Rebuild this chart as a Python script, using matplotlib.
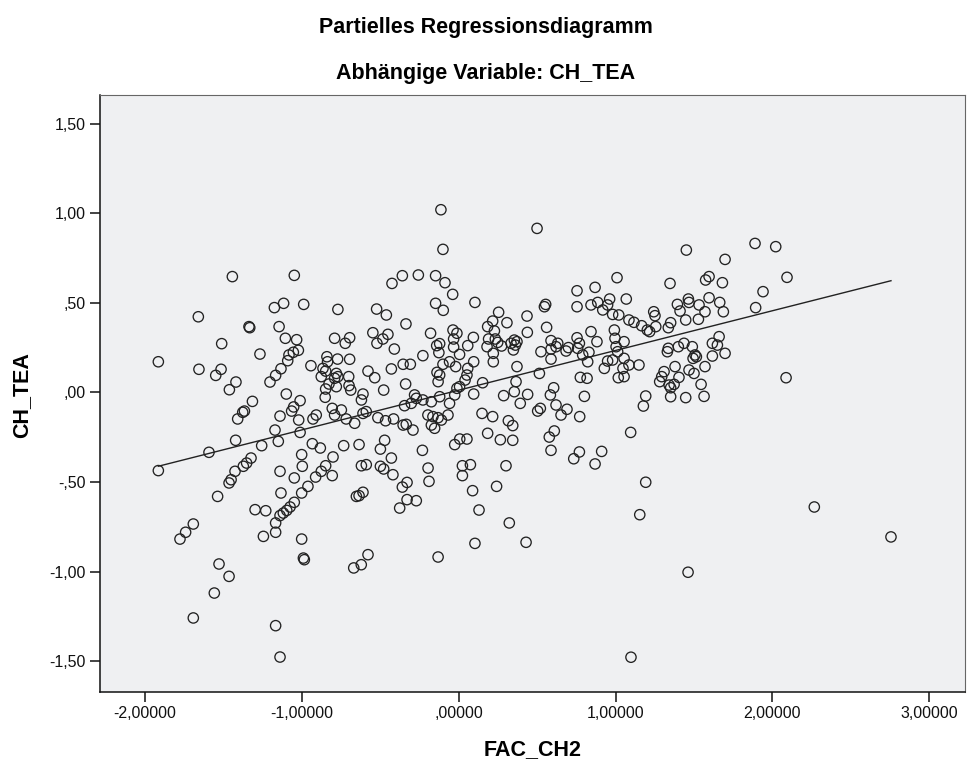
import numpy as np
import matplotlib
matplotlib.use('Agg')
import matplotlib.pyplot as plt
from matplotlib.ticker import FuncFormatter

plt.rcParams['font.family'] = ['Liberation Sans', 'DejaVu Sans']

# residuals
fac_ch2 = [
    # upper left
    -1.444, -1.049, -1.661, -1.176, -1.117, -0.989, -1.338, -1.333, -1.146, -1.512,
    -1.106, -1.034, -1.268, -1.916, -1.657, -1.516, -1.550, -1.083, -1.055, -1.023,
    -1.091, -1.134, -1.168, -1.204, -1.421, -1.463, -1.100, -1.316, -1.367, -1.378,
    -1.410, -1.012, -1.053, -1.066, -1.140, -1.021, -1.172, -1.012,
    # lower left
    -1.916, -1.593, -1.423, -1.257, -1.151, -1.325, -1.353, -1.374, -1.427, -1.452,
    -1.465, -1.538, -1.140, -1.049, -1.002, -0.998, -1.134, -1.002, -1.299, -1.231,
    -1.168, -1.168, -1.246, -1.140, -1.119, -1.097, -1.076, -1.049, -1.693, -1.742,
    -1.778, -1.529, -1.465, -1.559, -1.693, -1.168, -1.140, -1.002, -0.991, -0.985,
    # upper centre left
    -0.114, -0.101, -0.426, -0.360, -0.258, -0.148, -0.088, -0.039, -0.771, -0.524,
    -0.462, -0.148, -0.099, -0.337, -0.180, -0.548, -0.452, -0.484, -0.522, -0.792,
    -0.696, -0.724, -0.411, -0.037, -0.012, -0.033, -0.141, -0.122, -0.127, -0.033,
    0.005, -0.943, -0.841, -0.837, -0.773, -0.696, -0.866, -0.849, -0.877, -0.781,
    -0.771, -0.792, -0.702, -0.828, -0.781, -0.849, -0.852, -0.700, -0.689, -0.579,
    -0.536, -0.430, -0.355, -0.309, -0.229, -0.339, -0.479, -0.611, -0.621, -0.139,
    -0.122, -0.132, -0.101, -0.059, -0.020, -0.909, -0.930, -0.807, -0.749, -0.792,
    -0.718, -0.664, -0.611, -0.590, -0.516, -0.467, -0.416, -0.355, -0.335, -0.282,
    -0.271, -0.346, -0.303, -0.229, -0.175, -0.197, -0.165, -0.132, -0.111, -0.069,
    -0.122, -0.059, -0.026, -0.012, 0.005, -0.175, -0.154, -0.292,
    # upper centre right
    0.499, 1.009, 0.754, 0.869, 0.103, 0.554, 0.546, 0.754, 0.843, 0.886,
    0.918, 0.962, 0.949, 0.981, 1.020, 0.254, 0.216, 0.184, 0.307, 0.435,
    0.560, 0.437, 0.227, 0.190, 0.233, 0.248, 0.273, 0.180, 0.093, 0.057,
    0.333, 0.354, 0.361, 0.348, 0.371, 0.588, 0.631, 0.620, 0.588, 0.524,
    0.588, 0.699, 0.684, 0.754, 0.769, 0.758, 0.790, 0.830, 0.822, 0.843,
    0.881, 0.992, 0.996, 1.003, 1.013, 0.981, 0.949, 0.928, 0.220, 0.220,
    0.095, 0.371, 0.514, 0.057, 0.052, 0.040, 0.152, 0.095, 0.365, 0.354,
    0.286, 0.439, 0.392, 0.605, 0.584, 0.620, 0.652, 0.690, 0.775, 0.818,
    0.801, 0.771, 0.148, 0.216, 0.316, 0.344, 0.184, 0.503, 0.520, 0.609,
    1.017,
    # upper right
    1.451, 1.889, 2.021, 1.698, 1.347, 1.574, 1.596, 1.681, 1.940, 1.893,
    1.068, 1.394, 1.464, 1.468, 1.532, 1.596, 1.664, 1.411, 1.570, 1.687,
    1.447, 1.528, 1.243, 1.251, 1.085, 1.117, 1.166, 1.202, 1.217, 1.256,
    1.336, 1.351, 1.054, 1.054, 1.085, 1.047, 1.054, 1.149, 1.336, 1.330,
    1.400, 1.436, 1.489, 1.506, 1.494, 1.515, 1.617, 1.660, 1.649, 1.698,
    1.617, 1.570, 1.379, 1.468, 1.500, 1.404, 1.309, 1.294, 1.281, 1.341,
    1.351, 1.373, 1.545, 1.192, 1.177, 1.351, 1.447, 1.564, 1.096,
    2.093, 2.087,
    # lower centre
    -0.934, -0.883, -0.734, -0.636, -0.473, -0.500, -0.430, -0.232, -0.026, 0.006,
    -0.962, -0.913, -0.877, -0.849, -0.802, -0.807, -0.621, -0.590, -0.500, -0.479,
    -0.420, -0.196, -0.190, 0.023, 0.023, -0.653, -0.636, -0.611, -0.330, -0.360,
    -0.330, -0.271, -0.377, -0.579, -0.622, -0.670, -0.132,
    0.052, 0.265, 0.344, 0.577, 0.588, 0.733, 0.769, 0.869, 0.911, 0.074,
    0.301, 0.088, 0.241, 0.129, 0.322, 0.103, 0.429,
    # lower right
    1.192, 1.154, 1.462, 1.098, 2.267, 2.756,
]

ch_tea = [
    # upper left
    0.646, 0.653, 0.422, 0.473, 0.497, 0.491, 0.367, 0.361, 0.367, 0.272,
    0.302, 0.294, 0.214, 0.171, 0.129, 0.129, 0.095, 0.209, 0.224, 0.235,
    0.177, 0.132, 0.095, 0.058, 0.058, 0.015, -0.009, -0.050, -0.104, -0.111,
    -0.148, -0.046, -0.081, -0.104, -0.132, -0.154, -0.210, -0.223,
    # lower left
    -0.436, -0.334, -0.267, -0.297, -0.273, -0.366, -0.394, -0.412, -0.440, -0.487,
    -0.505, -0.580, -0.440, -0.477, -0.347, -0.412, -0.561, -0.561, -0.654, -0.660,
    -0.728, -0.780, -0.803, -0.687, -0.673, -0.658, -0.639, -0.613, -0.734, -0.780,
    -0.818, -0.957, -1.026, -1.119, -1.258, -1.301, -1.476, -0.818, -0.924, -0.933,
    # upper centre left
    1.019, 0.798, 0.608, 0.651, 0.655, 0.651, 0.612, 0.547, 0.463, 0.465,
    0.432, 0.497, 0.458, 0.382, 0.330, 0.333, 0.324, 0.298, 0.274, 0.302,
    0.305, 0.274, 0.242, 0.348, 0.330, 0.298, 0.261, 0.272, 0.222, 0.253,
    0.212, 0.149, 0.199, 0.171, 0.186, 0.185, 0.134, 0.119, 0.088, 0.106,
    0.088, 0.079, 0.088, 0.047, 0.032, 0.019, -0.027, 0.038, 0.013, 0.119,
    0.082, 0.131, 0.157, 0.157, 0.205, 0.047, 0.013, -0.009, -0.042, 0.112,
    0.097, 0.060, 0.157, 0.171, 0.144, -0.126, -0.148, -0.089, -0.098, -0.126,
    -0.148, -0.172, -0.117, -0.107, -0.141, -0.158, -0.148, -0.182, -0.178, -0.014,
    -0.033, -0.074, -0.061, -0.042, -0.052, -0.126, -0.135, -0.141, -0.154, -0.126,
    -0.024, -0.061, -0.014, 0.023, 0.032, -0.182, -0.200, -0.210,
    # upper centre right
    0.915, 0.640, 0.567, 0.586, 0.502, 0.491, 0.478, 0.478, 0.488, 0.502,
    0.460, 0.521, 0.488, 0.435, 0.432, 0.447, 0.398, 0.367, 0.389, 0.426,
    0.363, 0.335, 0.343, 0.298, 0.298, 0.279, 0.259, 0.255, 0.307, 0.261,
    0.274, 0.292, 0.264, 0.237, 0.283, 0.289, 0.274, 0.255, 0.242, 0.227,
    0.186, 0.250, 0.231, 0.305, 0.274, 0.246, 0.209, 0.224, 0.171, 0.339,
    0.283, 0.348, 0.302, 0.255, 0.227, 0.181, 0.175, 0.134, 0.218, 0.171,
    0.171, 0.144, 0.106, 0.134, 0.097, 0.069, 0.054, -0.009, 0.060, 0.004,
    -0.018, -0.011, -0.061, 0.026, -0.014, -0.070, -0.126, -0.094, 0.084, 0.079,
    -0.022, -0.135, -0.117, -0.135, -0.158, -0.185, -0.228, -0.104, -0.089, -0.215,
    0.082,
    # upper right
    0.794, 0.831, 0.813, 0.742, 0.608, 0.627, 0.646, 0.612, 0.562, 0.473,
    0.521, 0.491, 0.521, 0.502, 0.488, 0.528, 0.502, 0.454, 0.450, 0.450,
    0.404, 0.408, 0.450, 0.428, 0.404, 0.391, 0.372, 0.348, 0.339, 0.367,
    0.361, 0.389, 0.283, 0.190, 0.153, 0.134, 0.088, 0.153, 0.246, 0.227,
    0.255, 0.274, 0.255, 0.209, 0.190, 0.199, 0.274, 0.311, 0.264, 0.218,
    0.203, 0.144, 0.144, 0.125, 0.106, 0.084, 0.116, 0.088, 0.060, 0.041,
    0.026, 0.045, 0.045, -0.020, -0.076, -0.024, -0.029, -0.022, -0.223,
    0.642, 0.082,
    # lower centre
    -0.286, -0.310, -0.297, -0.291, -0.267, -0.316, -0.366, -0.323, -0.291, -0.260,
    -0.524, -0.472, -0.440, -0.409, -0.360, -0.464, -0.409, -0.403, -0.412, -0.427,
    -0.459, -0.422, -0.496, -0.409, -0.464, -0.580, -0.576, -0.557, -0.502, -0.528,
    -0.598, -0.604, -0.645, -0.905, -0.961, -0.979, -0.918,
    -0.260, -0.264, -0.267, -0.249, -0.323, -0.370, -0.332, -0.399, -0.329, -0.403,
    -0.409, -0.548, -0.524, -0.656, -0.728, -0.842, -0.836,
    # lower right
    -0.501, -0.682, -1.003, -1.477, -0.639, -0.806,
]

# fit line
reg_slope = 0.2215
reg_intercept = 0.0126

x_ticks = [-2, -1, 0, 1, 2, 3]
y_ticks = [-1.5, -1.0, -0.5, 0.0, 0.5, 1.0, 1.5]


def spss_fmt(v, nd):
    if abs(v) < 1e-9:
        v = 0.0
    s = f"{v:.{nd}f}".replace('.', ',')
    if s.startswith('0,'):
        s = s[1:]
    elif s.startswith('-0,'):
        s = '-' + s[2:]
    return s


fig = plt.figure(figsize=(9.67, 7.67), dpi=100)
ax = fig.add_axes([100 / 967, 1 - 692 / 767, 865 / 967, 597 / 767])
ax.set_facecolor('#eff0f2')

ax.scatter(fac_ch2, ch_tea, s=55, facecolors='none', edgecolors='#222222',
           linewidths=0.95, zorder=3)
xx = np.array([min(fac_ch2), max(fac_ch2)])
ax.plot(xx, reg_intercept + reg_slope * xx, color='#222222', lw=1.0, zorder=2)

ax.set_xlim(-2.288, 3.228)
ax.set_ylim(-1.671, 1.659)
ax.set_xticks(x_ticks)
ax.set_yticks(y_ticks)
ax.xaxis.set_major_formatter(FuncFormatter(lambda v, p: spss_fmt(v, 5)))
ax.yaxis.set_major_formatter(FuncFormatter(lambda v, p: spss_fmt(v, 2)))
ax.tick_params(direction='out', length=7, width=1.1, labelsize=11.5,
               colors='#111111', pad=3)

for side in ['left', 'bottom']:
    ax.spines[side].set_color('#111111')
    ax.spines[side].set_linewidth(1.1)
for side in ['top', 'right']:
    ax.spines[side].set_color('#666666')
    ax.spines[side].set_linewidth(0.8)

fig.text(486 / 967, 1 - 27 / 767, 'Partielles Regressionsdiagramm',
         ha='center', va='center', fontsize=15.5, fontweight='bold')
fig.text(486 / 967, 1 - 73 / 767, 'Abhängige Variable: CH_TEA',
         ha='center', va='center', fontsize=15.5, fontweight='bold')
fig.text(533 / 967, 1 - 750 / 767, 'FAC_CH2',
         ha='center', va='center', fontsize=15.5, fontweight='bold')
fig.text(22 / 967, 1 - 395 / 767, 'CH_TEA', rotation=90,
         ha='center', va='center', fontsize=15.5, fontweight='bold')

fig.savefig('out.png', dpi=100, facecolor='white')
